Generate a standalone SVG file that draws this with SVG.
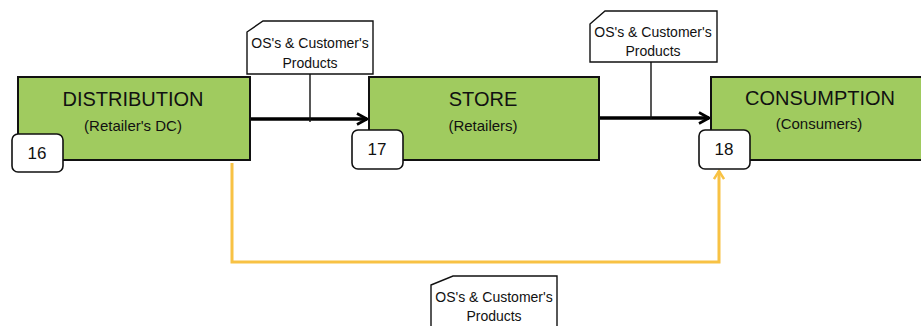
<svg xmlns="http://www.w3.org/2000/svg" width="921" height="326" viewBox="0 0 921 326">
  <style>
    .stage { fill: #A0CB5F; stroke: #111; stroke-width: 2; }
    .badge { fill: #fff; stroke: #111; stroke-width: 1.6; }
    .note { fill: #fff; stroke: #111; stroke-width: 1.4; }
    .title { font-family: "Liberation Sans", Arial, sans-serif; font-size: 20px; fill: #111; text-anchor: middle; }
    .sub { font-family: "Liberation Sans", Arial, sans-serif; font-size: 15px; fill: #111; text-anchor: middle; }
    .num { font-family: "Liberation Sans", Arial, sans-serif; font-size: 17px; fill: #111; text-anchor: middle; }
    .lbl { font-family: "Liberation Sans", Arial, sans-serif; font-size: 14px; fill: #111; text-anchor: middle; }
    .flow { fill: none; stroke: #000; stroke-width: 3.4; }
    .ret { fill: none; stroke: #F8C244; stroke-width: 3; }
    .stem { fill: none; stroke: #111; stroke-width: 1.4; }
  </style>
  <defs>
    <marker id="headBlack" viewBox="0 0 14 14" refX="12" refY="7" markerWidth="14" markerHeight="14" markerUnits="userSpaceOnUse" orient="auto">
      <polyline points="2,1.5 12,7 2,12.5" fill="none" stroke="#000" stroke-width="2.6"/>
    </marker>
    <marker id="headYellow" viewBox="0 0 12 12" refX="10" refY="6" markerWidth="12" markerHeight="12" markerUnits="userSpaceOnUse" orient="auto">
      <polyline points="2,1 10,6 2,11" fill="none" stroke="#F8C244" stroke-width="2.4"/>
    </marker>
  </defs>

  <g id="connectors">
    <line class="flow" x1="250" y1="119" x2="367" y2="119" marker-end="url(#headBlack)"/>
    <line class="flow" x1="599" y1="118" x2="709" y2="118" marker-end="url(#headBlack)"/>
    <polyline class="ret" points="232,163 232,262 719,262 719,171" marker-end="url(#headYellow)"/>
  </g>

  <g id="distribution">
    <rect class="stage" x="18" y="77" width="232" height="83"/>
    <text class="title" x="133" y="106">DISTRIBUTION</text>
    <text class="sub" x="133" y="131">(Retailer's DC)</text>
    <rect class="badge" x="12" y="134" width="51" height="38" rx="6"/>
    <text class="num" x="37" y="159">16</text>
  </g>

  <g id="store">
    <rect class="stage" x="369" y="77" width="230" height="83"/>
    <text class="title" x="483" y="106">STORE</text>
    <text class="sub" x="483" y="131">(Retailers)</text>
    <rect class="badge" x="352" y="130" width="51" height="39" rx="6"/>
    <text class="num" x="377" y="155">17</text>
  </g>

  <g id="consumption">
    <rect class="stage" x="711" y="77" width="215" height="83"/>
    <text class="title" x="820" y="105">CONSUMPTION</text>
    <text class="sub" x="819" y="129">(Consumers)</text>
    <rect class="badge" x="699" y="130" width="51" height="39" rx="6"/>
    <text class="num" x="724" y="155">18</text>
  </g>

  <g id="note-dc-store">
    <line class="stem" x1="310" y1="74" x2="310" y2="122"/>
    <polygon class="note" points="247,32 263,21 373,21 373,74 247,74"/>
    <text class="lbl" x="310" y="48">OS's &amp; Customer's</text>
    <text class="lbl" x="310" y="68">Products</text>
  </g>

  <g id="note-store-consumer">
    <line class="stem" x1="651" y1="62" x2="651" y2="119"/>
    <polygon class="note" points="590,24 605,11 717,11 717,62 590,62"/>
    <text class="lbl" x="653" y="37">OS's &amp; Customer's</text>
    <text class="lbl" x="653" y="56">Products</text>
  </g>

  <g id="note-return">
    <polygon class="note" points="431,285 453,276 557,276 557,330 431,330"/>
    <text class="lbl" x="494" y="302">OS's &amp; Customer's</text>
    <text class="lbl" x="494" y="321">Products</text>
  </g>
</svg>
